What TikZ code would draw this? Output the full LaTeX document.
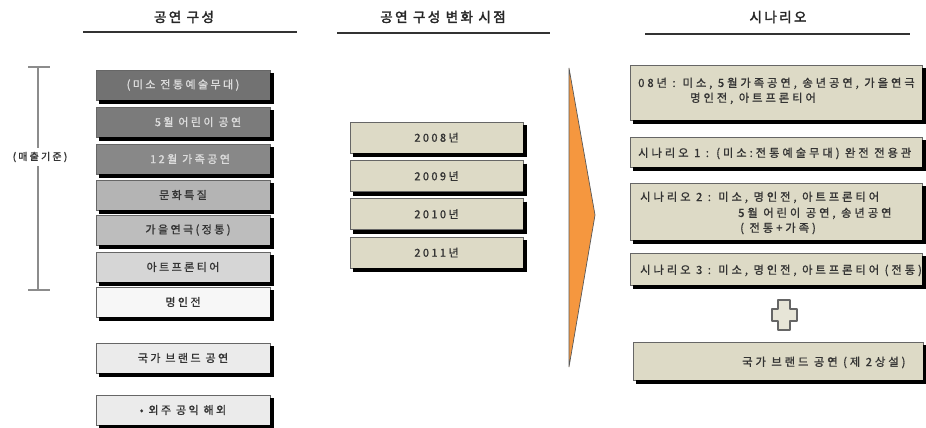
\documentclass[tikz,border=0pt]{standalone}
\usepackage{fontspec}
\setmainfont{Noto Sans CJK KR}[LetterSpace=22, FakeBold=1.2]
\newfontfamily\rfont{Noto Sans CJK KR}[LetterSpace=26, FakeBold=1.2]
\newfontfamily\hdfont{Noto Sans CJK KR}[LetterSpace=18, FakeBold=2.5]
\definecolor{gA}{HTML}{727272}
\definecolor{gB}{HTML}{7B7B7B}
\definecolor{gC}{HTML}{888888}
\definecolor{gD}{HTML}{B4B4B4}
\definecolor{gE}{HTML}{BDBDBD}
\definecolor{gF}{HTML}{D6D6D6}
\definecolor{gG}{HTML}{F7F7F7}
\definecolor{gH}{HTML}{EBEBEB}
\definecolor{beige}{HTML}{DDDAC6}
\definecolor{txt}{HTML}{333333}
\definecolor{lighttxt}{HTML}{DCDCDC}
\definecolor{orangeA}{HTML}{F5973F}
\tikzset{
  pbox/.style={draw=black!60, line width=0.6pt, rectangle, inner sep=0pt,
    font=\fontsize{11}{12}\selectfont, text=txt},
  lbox/.style={pbox, minimum width=174pt, minimum height=30pt},
  mbox/.style={pbox, fill=beige, minimum width=173pt, minimum height=31pt},
  rbox/.style={pbox, fill=beige, minimum width=292pt},
  rtxt/.style={font=\rfont\fontsize{11.3}{12}\selectfont, text=txt, inner sep=0pt, anchor=base west},
  hdr/.style={font=\hdfont\fontsize{13.5}{15}\selectfont, text=black!85, inner sep=0pt},
  uline/.style={line width=1.5pt, black!80},
  brk/.style={line width=1.8pt, black!45},
  shline/.style={line width=4pt, black, line cap=butt, line join=miter}
}
\begin{document}
\begin{tikzpicture}[x=1pt,y=-1pt]
\useasboundingbox (0,0) rectangle (926,428);
% headers
\node[hdr] (h1) at (184,17) {공연 구성};
\node[hdr] (h2) at (443,17) {공연 구성 변화 시점};
\node[hdr] (h3) at (778,17) {시나리오};
\coordinate (u1a) at (83,32); \coordinate (u1b) at (297,32);
\coordinate (u2a) at (337,33); \coordinate (u2b) at (550,33);
\coordinate (u3a) at (645,34); \coordinate (u3b) at (910,34);
\draw[uline] (u1a) -- (u1b);
\draw[uline] (u2a) -- (u2b);
\draw[uline] (u3a) -- (u3b);
% left column
\node[lbox, fill=gA, text=lighttxt] (l1) at (183,85) {(미소 전통예술무대)};
\node[lbox, fill=gB, text=lighttxt] (l2) at (183,122) {\hspace{30pt}5월 어린이 공연};
\node[lbox, fill=gC, text=lighttxt] (l3) at (183,159) {\hspace{14pt}12월 가족공연};
\node[lbox, fill=gD] (l4) at (183,195) {문화특질};
\node[lbox, fill=gE] (l5) at (183,230) {\hspace{10pt}가을연극(정통)};
\node[lbox, fill=gF] (l6) at (183,267) {아트프론티어};
\node[lbox, fill=gG] (l7) at (183,302) {명인전};
\node[lbox, fill=gH] (l8) at (183,358) {국가 브랜드 공연};
\node[lbox, fill=gH] (l9) at (183,410) {• 외주 공익 해외};
% left column shadows (drawn on the outside of the right and bottom edges)
\draw[shline] (272,73) -- (272,102) -- (99,102);
\draw[shline] (272,110) -- (272,139) -- (99,139);
\draw[shline] (272,147) -- (272,176) -- (99,176);
\draw[shline] (272,183) -- (272,212) -- (99,212);
\draw[shline] (272,218) -- (272,247) -- (99,247);
\draw[shline] (272,255) -- (272,284) -- (99,284);
\draw[shline] (272,290) -- (272,319) -- (99,319);
\draw[shline] (272,346) -- (272,375) -- (99,375);
\draw[shline] (272,398) -- (272,427) -- (99,427);
% bracket
\node[font=\fontsize{10}{11}\selectfont, text=txt, inner sep=1pt] (lab) at (40,157) {(매출기준)};
\coordinate (bt) at (38,67); \coordinate (bb) at (38,290);
\coordinate (bt1) at (28,67); \coordinate (bt2) at (50,67);
\coordinate (bb1) at (28,290); \coordinate (bb2) at (50,290);
\draw[brk] (bt1) -- (bt2);
\draw[brk] (bb1) -- (bb2);
\draw[brk] (bt) -- ([yshift=3pt]bt |- lab.north);
\draw[brk] ([yshift=-3pt]bb |- lab.south) -- (bb);
% middle column
\node[mbox] (m1) at (436.5,137.5) {2008년};
\node[mbox] (m2) at (436.5,176) {2009년};
\node[mbox] (m3) at (436.5,214) {2010년};
\node[mbox] (m4) at (436.5,252.5) {2011년};
\draw[shline] (525,125) -- (525,155) -- (353,155);
\draw[shline] (525,163.5) -- (525,193.5) -- (353,193.5);
\draw[shline] (525,201.5) -- (525,231.5) -- (353,231.5);
\draw[shline] (525,240) -- (525,270) -- (353,270);
% arrow
\coordinate (a1) at (569,68); \coordinate (a2) at (595,215); \coordinate (a3) at (569,367);
\draw[fill=orangeA, draw=black!65, line width=0.7pt, line join=miter] (a1) -- (a2) -- (a3) -- cycle;
% right column
\node[rbox, minimum height=55pt] (r1) at (776,92.5) {};
\node[rtxt] (r1a) at (638,87) {08년 :\hspace{7pt}미소, 5월가족공연, 송년공연, 가을연극};
\node[rtxt] (r1b) at (690,102) {명인전, 아트프론티어};
\node[rbox, minimum height=30pt] (r2) at (776,152) {};
\node[rtxt] (r2a) at (638,157) {시나리오 1 : (미소:전통예술무대) 완전 전용관};
\node[rbox, minimum height=57pt] (r3) at (776,211.5) {};
\node[rtxt] (r3a) at (640,201) {시나리오 2 : 미소, 명인전, 아트프론티어};
\node[rtxt] (r3b) at (738,217) {5월 어린이 공연, 송년공연};
\node[rtxt] (r3c) at (740,232) {( 전통+가족)};
\node[rbox, minimum height=32pt] (r4) at (776,269) {};
\node[rtxt] (r4a) at (640,274) {시나리오 3 : 미소, 명인전, 아트프론티어 (전통)};
\node[rbox, minimum width=290pt, minimum height=38pt] (r5) at (778,361) {};
\node[rtxt] (r5a) at (742,366) {국가 브랜드 공연 (제 2상설)};
\draw[shline] (924,68) -- (924,122) -- (633,122);
\draw[shline] (924,140) -- (924,169) -- (633,169);
\draw[shline] (924,186) -- (924,242) -- (633,242);
\draw[shline] (924,256) -- (924,287) -- (633,287);
\draw[shline] (925,345) -- (925,382) -- (636,382);
% plus sign
\draw[fill=beige!70!white, draw=black!60, line width=1.2pt, line join=round]
  (778,300) -- (790,300) -- (790,309) -- (797,309) -- (797,321) -- (790,321) -- (790,330)
  -- (778,330) -- (778,321) -- (772,321) -- (772,309) -- (778,309) -- cycle;
\end{tikzpicture}
\end{document}
